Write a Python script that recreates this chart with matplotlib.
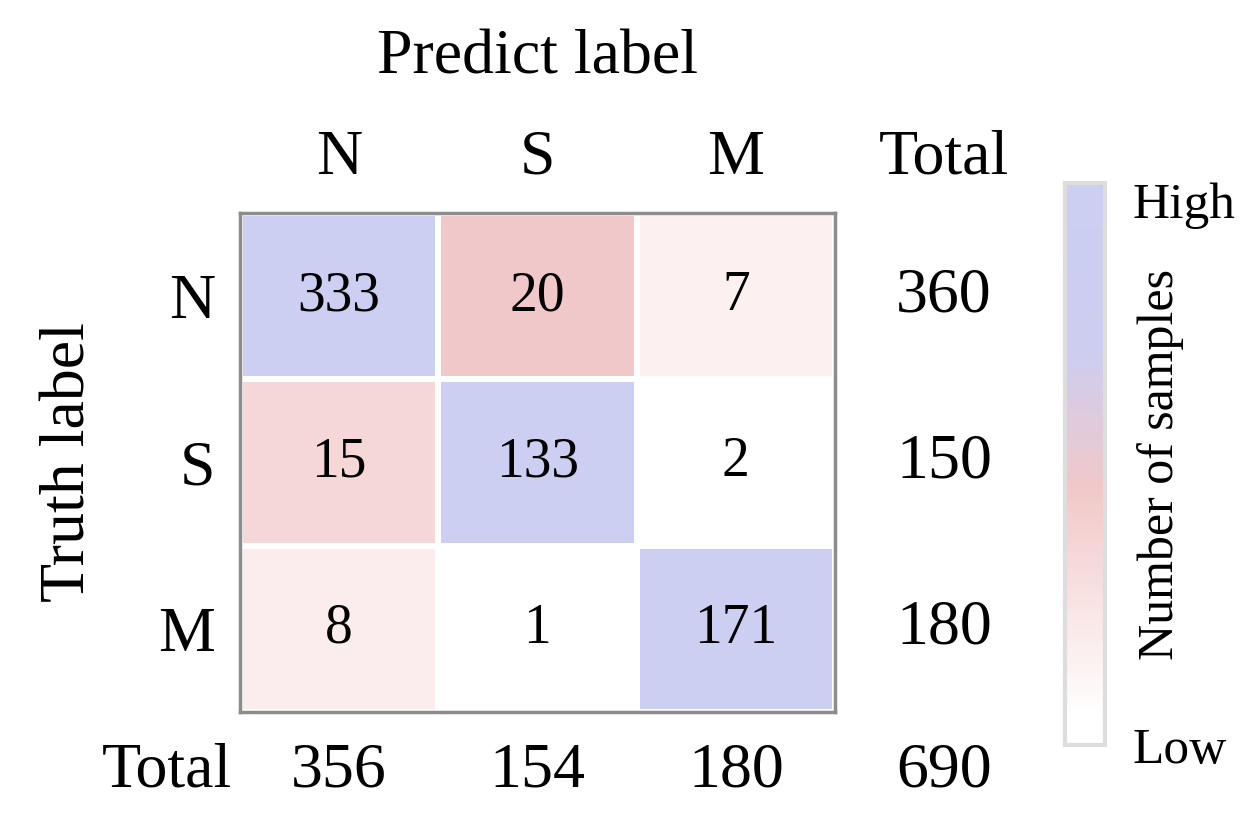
import numpy as np
import matplotlib
matplotlib.use("Agg")
import matplotlib.pyplot as plt
from matplotlib.colors import LinearSegmentedColormap, Normalize

plt.rcParams['font.family'] = ['Liberation Serif', 'DejaVu Serif']

# confusion matrix data
classes = ["N", "S", "M"]
counts = np.array([[333, 20, 7],
                   [15, 133, 2],
                   [8, 1, 171]])
row_totals = [360, 150, 180]
col_totals = [356, 154, 180]
grand_total = 690

# white -> pink -> lavender
cmap = LinearSegmentedColormap.from_list(
    "wpb", [(0.0, "#ffffff"), (0.05, "#ffffff"), (0.45, "#f2c8c8"),
            (0.70, "#cdcdf0"), (1.0, "#cccef2")])
norm = Normalize(vmin=0, vmax=44, clip=True)

fig = plt.figure(figsize=(12.54, 8.36), dpi=100)
ax = fig.add_axes([240/1254, 1-712/836, 595/1254, 499/836])

ax.pcolormesh(counts, cmap=cmap, norm=norm, edgecolors="white", linewidth=3)
ax.set_xlim(0, 3)
ax.set_ylim(3, 0)
for s in ax.spines.values():
    s.set_edgecolor("#8c8c8c")
    s.set_linewidth(2.5)

for i in range(3):
    for j in range(3):
        ax.text(j + 0.5, i + 0.5, str(counts[i, j]), ha="center", va="center", fontsize=40)

ax.xaxis.tick_top()
ax.set_xticks(np.arange(3) + 0.5)
ax.set_xticklabels(classes, fontsize=46)
ax.set_yticks(np.arange(3) + 0.5)
ax.set_yticklabels(classes, fontsize=46)
ax.tick_params(length=0, pad=18)

# totals
ax.text(3.55, -0.33, "Total", ha="center", va="center", fontsize=46, clip_on=False)
for i, t in enumerate(row_totals):
    ax.text(3.55, i + 0.5, str(t), ha="center", va="center", fontsize=46, clip_on=False)
ax.text(-0.37, 3.36, "Total", ha="center", va="center", fontsize=46, clip_on=False)
for j, t in enumerate(col_totals):
    ax.text(j + 0.5, 3.36, str(t), ha="center", va="center", fontsize=46, clip_on=False)
ax.text(3.55, 3.36, str(grand_total), ha="center", va="center", fontsize=46, clip_on=False)

ax.text(1.5, -0.93, "Predict label", ha="center", va="center", fontsize=46, clip_on=False)
ax.text(-0.86, 1.5, "Truth label", ha="center", va="center", rotation=90, fontsize=46, clip_on=False)

# colorbar
cax = fig.add_axes([1065/1254, 1-745/836, 40/1254, 562/836])
sm = plt.cm.ScalarMappable(cmap=cmap, norm=norm)
cb = fig.colorbar(sm, cax=cax)
cb.outline.set_edgecolor("#dddddd")
cb.outline.set_linewidth(3)
cb.set_ticks([0, 44*0.97])
cb.set_ticklabels(["Low", "High"], fontsize=37)
cax.tick_params(length=0, pad=20)
cax.text(2.4, 0.5, "Number of samples", transform=cax.transAxes, rotation=90,
         ha="center", va="center", fontsize=36)

plt.savefig("out.png", dpi=100)
